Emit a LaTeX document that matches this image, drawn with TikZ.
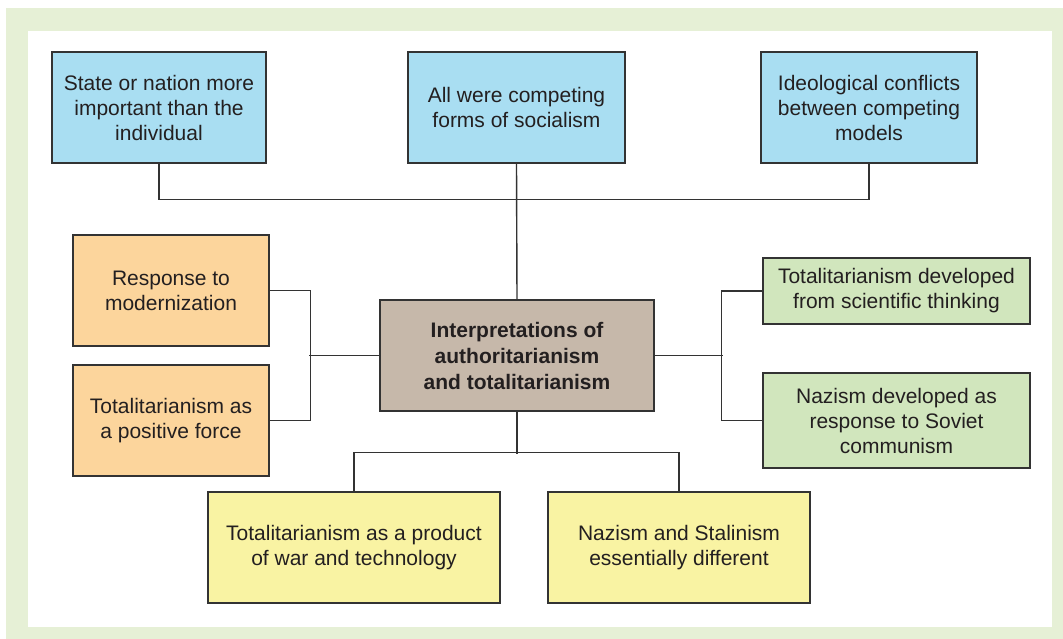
\documentclass[tikz,border=0pt]{standalone}
\usepackage{fontspec}
\setmainfont{Liberation Sans}
\definecolor{framegreen}{HTML}{E6F0D6}
\definecolor{bluefill}{HTML}{A9DEF2}
\definecolor{orangefill}{HTML}{FCD59C}
\definecolor{brownfill}{HTML}{C6B8AA}
\definecolor{greenfill}{HTML}{D1E6BD}
\definecolor{yellowfill}{HTML}{F9F3A3}
\definecolor{linegray}{HTML}{333333}
\definecolor{textdark}{HTML}{231F20}
\begin{document}
\begin{tikzpicture}[x=1pt,y=-1pt,
  box/.style={rectangle,draw=linegray,line width=1.4pt,inner sep=0pt,align=center,
    text=textdark,font=\fontsize{21}{25}\selectfont},
  conn/.style={draw=linegray,line width=1.4pt}]
\useasboundingbox (0,0) rectangle (1063,639);
\fill[framegreen] (6,8) rectangle (1063,639);
\fill[white] (28,31) rectangle (1052,627);

\node[box,fill=bluefill,minimum width=214pt,minimum height=111pt] (b1) at (159,107.5)
  {State or nation more\\important than the\\individual};
\node[box,fill=bluefill,minimum width=217pt,minimum height=111pt] (b2) at (516.5,107.5)
  {All were competing\\forms of socialism};
\node[box,fill=bluefill,minimum width=216pt,minimum height=111pt] (b3) at (869,107.5)
  {Ideological conflicts\\between competing\\models};
\node[box,fill=brownfill,minimum width=274pt,minimum height=111pt,
  font=\bfseries\fontsize{21}{26}\selectfont] (c) at (517,355.5)
  {Interpretations of\\authoritarianism\\and totalitarianism};
\node[box,fill=orangefill,minimum width=196pt,minimum height=111pt] (o1) at (171,290.5)
  {Response to\\modernization};
\node[box,fill=orangefill,minimum width=196pt,minimum height=111pt] (o2) at (171,420.5)
  {Totalitarianism as\\a positive force};
\node[box,fill=greenfill,minimum width=267pt,minimum height=66pt] (g1) at (896.5,291)
  {Totalitarianism developed\\from scientific thinking};
\node[box,fill=greenfill,minimum width=267pt,minimum height=95pt] (g2) at (896.5,420.5)
  {Nazism developed as\\response to Soviet\\communism};
\node[box,fill=yellowfill,minimum width=292pt,minimum height=111pt] (y1) at (354,547.5)
  {Totalitarianism as a product\\of war and technology};
\node[box,fill=yellowfill,minimum width=262pt,minimum height=111pt] (y2) at (679,547.5)
  {Nazism and Stalinism\\essentially different};

% top
\draw[conn] (b1.south) -- ++(0,36) -| (b3.south);
\draw[conn] (b2.south) -- (c.north);
% left
\draw[conn] (o1.east) -- ++(41,0) |- (o2.east);
\draw[conn] (c.west) -- ++(-70,0);
% right
\draw[conn] (g1.west) -- ++(-41,0) |- (g2.west);
\draw[conn] (c.east) -- ++(68,0);
% bottom
\draw[conn] (c.south) -- ++(0,42);
\draw[conn] (y1.north) -- ++(0,-39) -| (y2.north);
\end{tikzpicture}
\end{document}
